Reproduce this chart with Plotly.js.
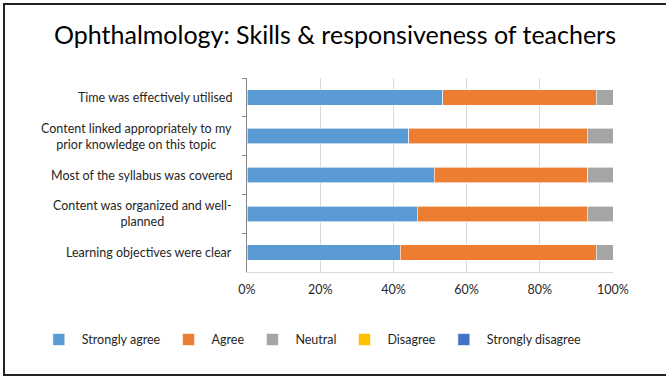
<!DOCTYPE html>
<html>
<head>
<meta charset="utf-8">
<script src="https://cdn.plot.ly/plotly-3.0.1.min.js"></script>
<style>
  html, body { margin: 0; padding: 0; background: #ffffff; }
  #frame { position: absolute; left: 3px; top: 3px; width: 663px; height: 373px;
           border-left: 2px solid #222; border-top: 2px solid #222; border-bottom: 2px solid #222; box-sizing: border-box; }
  #chart { position: absolute; left: 0; top: 0; width: 670px; height: 379px; }
</style>
</head>
<body>
<div id="frame"></div>
<div id="chart"></div>
<script>
const categories = [
  "Time was effectively utilised",
  "Content linked appropriately to my<br>prior knowledge on this topic",
  "Most of the syllabus was covered",
  "Content was organized and well-<br>planned",
  "Learning objectives were clear"
];
const stronglyAgree = [53.5, 44.2, 51.2, 46.5, 41.9];
const agree = [41.9, 48.8, 41.9, 46.5, 53.5];
const neutral = [4.6, 7.0, 6.9, 7.0, 4.6];
const disagree = [0, 0, 0, 0, 0];
const stronglyDisagree = [0, 0, 0, 0, 0];
const seriesNames = ["Strongly agree", "Agree", "Neutral", "Disagree", "Strongly disagree"];
const xTicks = [0, 20, 40, 60, 80, 100];

const colors = ["#5B9BD5", "#ED7D31", "#A5A5A5", "#FFC000", "#4472C4"];
const series = [stronglyAgree, agree, neutral, disagree, stronglyDisagree];

const font = "Lato, 'Open Sans', sans-serif";

const traces = series.map((vals, i) => ({
  type: "bar",
  orientation: "h",
  name: seriesNames[i],
  x: vals,
  y: categories,
  marker: { color: colors[i], line: { color: "#ffffff", width: 0.6 } },
  hoverinfo: "x+name"
}));

const annotations = categories.map(c => ({
  x: 0, xref: "paper", xshift: -13,
  y: c, yref: "y",
  text: c, showarrow: false,
  xanchor: "right", yanchor: "middle", align: "center",
  font: { family: font, size: 12.5, color: "#262626" }
}));

const layout = {
  width: 670, height: 379,
  paper_bgcolor: "rgba(0,0,0,0)",
  plot_bgcolor: "rgba(0,0,0,0)",
  margin: { l: 247, r: 57, t: 78, b: 107 },
  barmode: "stack",
  bargap: 0.6,
  title: {
    text: "Ophthalmology: Skills &amp; responsiveness of teachers",
    font: { family: font, size: 25, color: "#000000" },
    x: 0.5, xref: "container", xanchor: "center",
    y: 1 - 35 / 379, yref: "container", yanchor: "middle"
  },
  xaxis: {
    range: [0, 100],
    tickvals: xTicks,
    ticktext: xTicks.map(v => v + "%"),
    showgrid: true, gridcolor: "#D9D9D9", gridwidth: 1,
    zeroline: false,
    showline: true, linecolor: "#D9D9D9", linewidth: 1,
    ticks: "", ticklen: 0,
    ticklabelstandoff: 6,
    tickfont: { family: font, size: 12.5, color: "#262626" },
    fixedrange: true
  },
  yaxis: {
    type: "category",
    autorange: "reversed",
    showticklabels: false,
    showgrid: false, zeroline: false,
    showline: true, linecolor: "#868686", linewidth: 1,
    ticks: "outside", ticklen: 4, tickcolor: "#868686",
    tickson: "boundaries",
    fixedrange: true
  },
  legend: {
    orientation: "h",
    itemwidth: 36,
    x: -0.577, xanchor: "left",
    y: -0.35, yanchor: "middle",
    font: { family: font, size: 12.5, color: "#262626" },
    traceorder: "normal",
    bgcolor: "rgba(0,0,0,0)"
  },
  annotations: annotations,
  showlegend: true
};

Plotly.newPlot("chart", traces, layout, { displayModeBar: false, staticPlot: true });
</script>
</body>
</html>
